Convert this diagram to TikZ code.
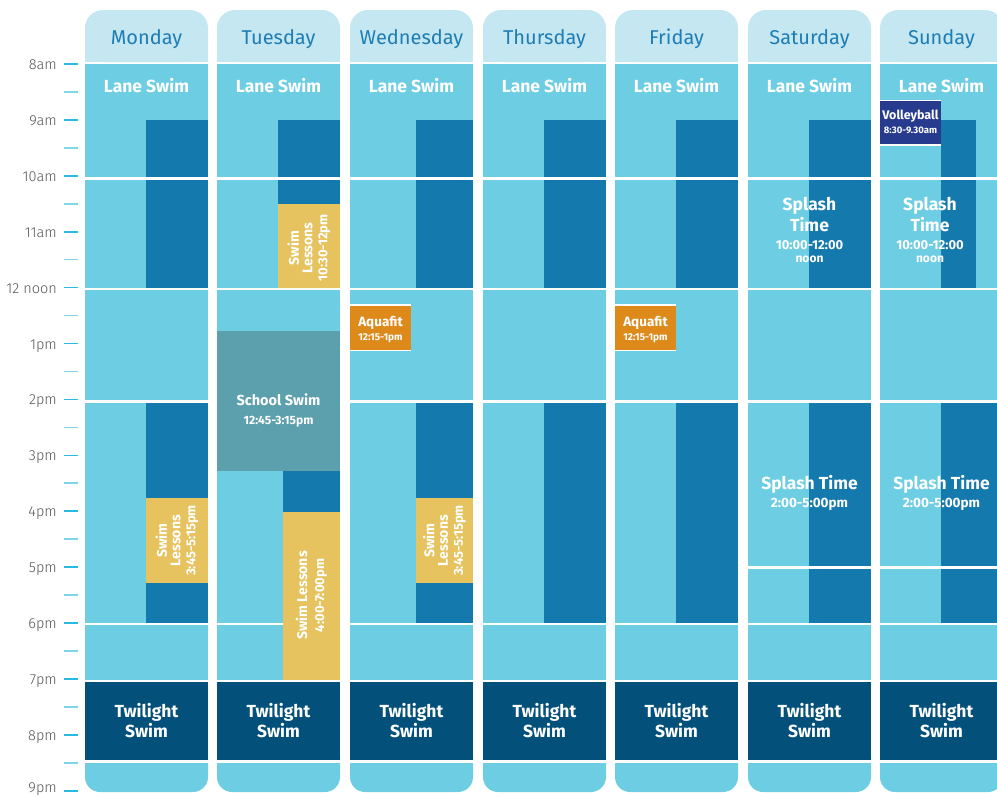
\documentclass[tikz,border=0pt]{standalone}
\usepackage{fontspec}
\setmainfont{Fira Sans}
\newfontfamily\axisfont{Fira Sans Light}
\definecolor{hdrbg}{HTML}{C5E7F2}
\definecolor{hdrtxt}{HTML}{1E7DB4}
\definecolor{pool}{HTML}{6DCDE2}
\definecolor{deep}{HTML}{1479AD}
\definecolor{twil}{HTML}{03507A}
\definecolor{lesson}{HTML}{E6C35F}
\definecolor{school}{HTML}{5C9FAD}
\definecolor{aqua}{HTML}{DD8A1B}
\definecolor{volley}{HTML}{263A8E}
\definecolor{tickc}{HTML}{29BCE0}
\definecolor{tickh}{HTML}{7FD6EA}
\definecolor{axisc}{HTML}{555555}
\newcommand{\fsz}[1]{\fontsize{#1}{#1}\selectfont}
\begin{document}
\begin{tikzpicture}[x=1pt,y=-1pt,
  hdr/.style={font=\fsz{20}, text=hdrtxt, anchor=base},
  big/.style={font=\bfseries\fsz{17.5}, text=white, anchor=base},
  mid/.style={font=\bfseries\fsz{13}, text=white, anchor=base},
  axl/.style={font=\axisfont\fsz{14.5}, text=axisc, anchor=base east, inner sep=0pt},
  rotlab/.style={rotate=90, align=center, text=white, inner sep=0pt, font=\bfseries\fontsize{14}{13.5}\selectfont},
]
\useasboundingbox (0,0) rectangle (997,796);
\begin{scope}
\clip (0,0) rectangle (997,796);

% ---- columns: header and pool body
\foreach \x/\d in {85/Monday,217/Tuesday,350/Wednesday,483/Thursday,615/Friday,748/Saturday,880/Sunday}{
  \fill[hdrbg, rounded corners=18] (\x,10) rectangle (\x+123,62);
  \fill[hdrbg] (\x,40) rectangle (\x+123,62);
  \fill[pool] (\x,64) rectangle (\x+123,760);
  \fill[pool, rounded corners=15] (\x,740) rectangle (\x+123,792);
  \node[hdr] (hd-\d) at (\x+61.5,44) {\d};
}

% ---- deep lanes
\foreach \a/\b in {146/208,416/473,544/606,676/738,809/871,941/976}{
  \fill[deep] (\a,120) rectangle (\b,287.5);
}
\fill[deep] (278,120) rectangle (340,204);
\foreach \a/\b in {146/208,416/473,544/606,676/738,809/871,941/1003}{
  \fill[deep] (\a,402.5) rectangle (\b,623);
}
\fill[deep] (283,470) rectangle (340,512);

% ---- white separators
\foreach \t/\bb in {177/179.5, 287.5/290, 400/402.5, 622.7/625, 679.5/681.5, 759.8/762.8}{
  \fill[white] (85,\t) rectangle (1003,\bb);
}
\fill[white] (748,566) rectangle (1003,568.5);

% ---- twilight
\foreach \x/\d in {85/Monday,217/Tuesday,350/Wednesday,483/Thursday,615/Friday,748/Saturday,880/Sunday}{
  \fill[twil] (\x,681.5) rectangle (\x+123,759.8);
  \node[big] (tw1-\d) at (\x+61.5,717) {Twilight};
  \node[big] (tw2-\d) at (\x+61.5,737.5) {Swim};
  \node[big] (lane-\d) at (\x+61.5,92.7) {Lane Swim};
}

% ---- special sessions
\fill[lesson] (278,204) rectangle (340,287.5);
\fill[school] (217,331) rectangle (340,470.7);
\fill[lesson] (283,511.5) rectangle (340,679.5);
\fill[lesson] (146,498) rectangle (208,583);
\fill[lesson] (416,498) rectangle (473,583);
\fill[white] (350,304) rectangle (411,351.3);
\fill[aqua] (350,305.6) rectangle (411,349.7);
\fill[white] (615,304) rectangle (676,351.3);
\fill[aqua] (615,305.6) rectangle (676,349.7);
\fill[white] (880,99.5) rectangle (941,145.5);
\fill[volley] (880,101) rectangle (941,143.5);

% ---- session labels
\node[rotlab] (sl-mon) at (177,540.5) {Swim\\Lessons\\[1.5pt]{\fontsize{13}{13.5}\selectfont 3:45-5:15pm}};
\node[rotlab] (sl-wed) at (444.5,540.5) {Swim\\Lessons\\[1.5pt]{\fontsize{13}{13.5}\selectfont 3:45-5:15pm}};
\node[rotlab] (sl-tue1) at (309,248) {Swim\\Lessons\\[1.5pt]{\fontsize{13}{13.5}\selectfont 10:30-12pm}};
\node[rotlab] (sl-tue2) at (311.5,595.5) {Swim Lessons\\[3.5pt]{\fontsize{13}{13.5}\selectfont 4:00-7:00pm}};

\node[font=\bfseries\fsz{14.5}, text=white, anchor=base] (ss1) at (278.5,405.7) {School Swim};
\node[font=\bfseries\fsz{12}, text=white, anchor=base] (ss2) at (278.5,424.5) {12:45-3:15pm};

\node[font=\bfseries\fsz{13.5}, text=white, anchor=base] (aq1-wed) at (380.5,326.7) {Aquafit};
\node[font=\bfseries\fsz{10}, text=white, anchor=base] (aq2-wed) at (380.5,340) {12:15-1pm};
\node[font=\bfseries\fsz{13.5}, text=white, anchor=base] (aq1-fri) at (645.5,326.7) {Aquafit};
\node[font=\bfseries\fsz{10}, text=white, anchor=base] (aq2-fri) at (645.5,340) {12:15-1pm};

\node[font=\bfseries\fsz{12.5}, text=white, anchor=base] (vb1) at (910.5,119.3) {Volleyball};
\node[font=\bfseries\fsz{9.5}, text=white, anchor=base] (vb2) at (910.5,133.5) {8:30-9.30am};

\foreach \cx/\d in {809.5/sat,930/sun}{
  \node[big] (sp1-\d) at (\cx,210) {Splash};
  \node[big] (sp2-\d) at (\cx,231) {Time};
  \node[mid] (sp3-\d) at (\cx,249.5) {10:00-12:00};
  \node[font=\bfseries\fsz{12}, text=white, anchor=base] (sp4-\d) at (\cx,262.7) {noon};
}
\foreach \cx/\d in {809.5/sat,941.5/sun}{
  \node[big] (spa-\d) at (\cx,489.5) {Splash Time};
  \node[font=\bfseries\fsz{13.5}, text=white, anchor=base] (spb-\d) at (\cx,507.5) {2:00-5:00pm};
}

% ---- time axis
\foreach \lab [count=\i from 0] in {8am,9am,10am,11am,12 noon,1pm,2pm,3pm,4pm,5pm,6pm,7pm,8pm}{
  \pgfmathsetmacro{\yy}{64+55.9*\i}
  \draw[tickc, line width=1.6pt] (64,\yy) -- (78,\yy);
  \node[axl] (t\i) at (57,\yy+5.5) {\lab};
  \draw[tickh, line width=1.6pt] (64,\yy+27.95) -- (78,\yy+27.95);
}
\draw[tickc, line width=1.6pt] (64,790.7) -- (78,790.7);
\node[axl] (t13) at (57,792) {9pm};
\end{scope}
\end{tikzpicture}
\end{document}
